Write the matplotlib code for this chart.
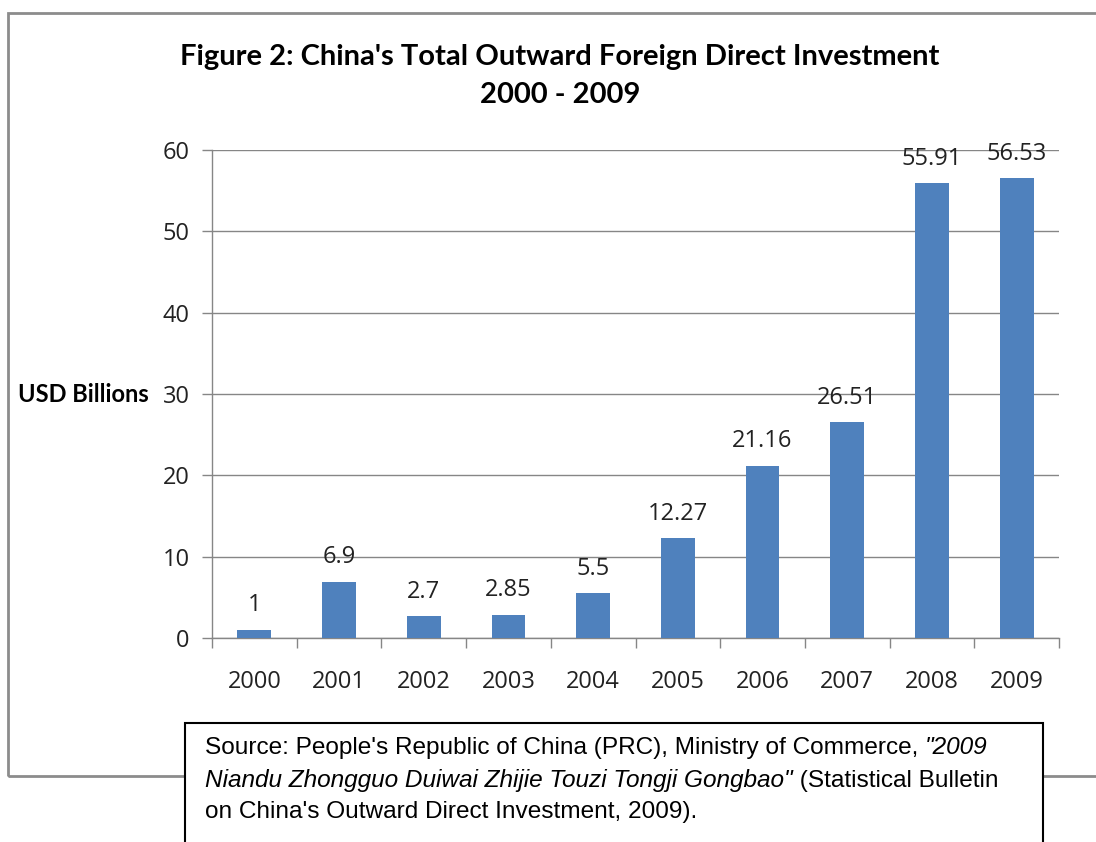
import matplotlib
matplotlib.use("Agg")
import matplotlib.pyplot as plt
from matplotlib.patches import Rectangle
from matplotlib.text import Annotation

# data
years = ["2000", "2001", "2002", "2003", "2004", "2005", "2006", "2007", "2008", "2009"]
odi = [1, 6.9, 2.7, 2.85, 5.5, 12.27, 21.16, 26.51, 55.91, 56.53]
value_labels = ["1", "6.9", "2.7", "2.85", "5.5", "12.27", "21.16", "26.51", "55.91", "56.53"]
yticks = [0, 10, 20, 30, 40, 50, 60]

title = "Figure 2: China's Total Outward Foreign Direct Investment\n2000 - 2009"
ylabel = "USD Billions"

bar_color = "#4F81BD"
grid_color = "#868686"
text_color = "#222222"
tick_font = "Open Sans"

fig = plt.figure(figsize=(10.96, 8.42), dpi=100)
fig.patch.set_facecolor("white")

# outer chart frame (runs off the right edge)
fig.patches.append(Rectangle((8 / 1096, 1 - 776 / 842), 1.2, (776 - 13) / 842,
                             transform=fig.transFigure, fill=False,
                             edgecolor="#8c8c8c", linewidth=2.0, zorder=0))

ax = fig.add_axes([212 / 1096, 1 - 638 / 842, (1059 - 212) / 1096, (638 - 150) / 842])
x = list(range(len(years)))
ax.bar(x, odi, width=0.40, color=bar_color, zorder=3)
ax.set_xlim(-0.5, len(years) - 0.5)
ax.set_ylim(0, 60)

ax.set_yticks(yticks)
ax.set_yticklabels([str(t) for t in yticks], fontsize=17, family=tick_font, color=text_color)
ax.set_xticks(x)
ax.set_xticklabels(years, fontsize=17, family=tick_font, color=text_color)
ax.tick_params(axis="x", length=0, pad=23)
ax.tick_params(axis="y", length=7, width=1, color=grid_color, pad=9)
# category separators below the x axis
ax.set_xticks([i - 0.5 for i in range(len(years) + 1)], minor=True)
ax.tick_params(axis="x", which="minor", length=7, width=1, color=grid_color)

ax.grid(axis="y", color=grid_color, linewidth=1, zorder=0)
for side in ["top", "right"]:
    ax.spines[side].set_visible(False)
for side in ["left", "bottom"]:
    ax.spines[side].set_color(grid_color)
    ax.spines[side].set_linewidth(1)

for xi, v, lab in zip(x, odi, value_labels):
    ax.annotate(lab, (xi, v), xytext=(0, 9), textcoords="offset points",
                ha="center", va="bottom", fontsize=17, family=tick_font, color=text_color)

fig.text(560 / 1096, 1 - 76 / 842, title, ha="center", va="center",
         fontsize=21, fontweight="bold", family="Lato", linespacing=1.6)
fig.text(18 / 1096, 1 - 395 / 842, ylabel, ha="left", va="center",
         fontsize=17, fontweight="bold", family="Lato")

# source box
fig.patches.append(Rectangle((185 / 1096, 1 - 850 / 842), (1043 - 185) / 1096, (850 - 723) / 842,
                             transform=fig.transFigure, facecolor="white",
                             edgecolor="black", linewidth=1.5, zorder=5))
src_font = dict(fontsize=17.6, family="Liberation Sans", zorder=6)


def append_text(prev, s, **kw):
    a = Annotation(s, xy=(1, 0), xycoords=prev, ha="left", va="bottom",
                   annotation_clip=False, **src_font, **kw)
    fig.add_artist(a)
    return a


t1 = fig.text(205 / 1096, 1 - 748 / 842,
              "Source: People's Republic of China (PRC), Ministry of Commerce, ",
              ha="left", va="center", **src_font)
append_text(t1, '"2009', style="italic")
t2 = fig.text(205 / 1096, 1 - 780 / 842,
              'Niandu Zhongguo Duiwai Zhijie Touzi Tongji Gongbao"',
              ha="left", va="center", style="italic", **src_font)
append_text(t2, " (Statistical Bulletin")
fig.text(205 / 1096, 1 - 812 / 842, "on China's Outward Direct Investment, 2009).",
         ha="left", va="center", **src_font)

fig.savefig("out.png", dpi=100)
